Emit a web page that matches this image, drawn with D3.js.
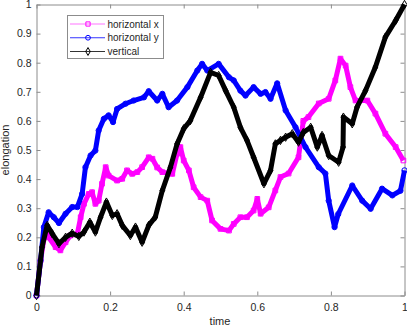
<!DOCTYPE html>
<html>
<head>
<meta charset="utf-8">
<script src="https://cdn.jsdelivr.net/npm/d3@7"></script>
<style>
  body { margin: 0; background: #fff; }
  svg { display: block; font-family: "Liberation Sans", Arial, sans-serif; }
</style>
</head>
<body>
<script>
// time / elongation pairs
var horizX = [
  [0,0],[0.011,0.12],[0.024,0.223],[0.033,0.2],[0.052,0.166],[0.065,0.155],[0.079,0.183],
  [0.092,0.206],[0.111,0.212],[0.12,0.269],[0.129,0.315],[0.142,0.349],[0.151,0.355],
  [0.16,0.315],[0.169,0.326],[0.178,0.384],[0.188,0.441],[0.196,0.412],[0.219,0.395],
  [0.233,0.401],[0.246,0.43],[0.26,0.418],[0.274,0.424],[0.287,0.441],[0.305,0.475],
  [0.315,0.47],[0.328,0.44],[0.342,0.424],[0.369,0.418],[0.382,0.487],[0.391,0.51],
  [0.40,0.464],[0.414,0.43],[0.427,0.372],[0.446,0.338],[0.464,0.326],[0.477,0.258],
  [0.50,0.229],[0.523,0.223],[0.536,0.246],[0.554,0.269],[0.572,0.269],[0.59,0.292],
  [0.60,0.332],[0.609,0.281],[0.631,0.303],[0.649,0.361],[0.663,0.407],[0.685,0.419],
  [0.712,0.475],[0.725,0.60],[0.739,0.613],[0.767,0.66],[0.794,0.676],[0.812,0.739],
  [0.826,0.814],[0.84,0.79],[0.853,0.716],[0.867,0.67],[0.899,0.67],[0.921,0.625],
  [0.948,0.556],[0.976,0.51],[0.997,0.464]
];

var horizY = [
  [0,0],[0.011,0.12],[0.02,0.235],[0.033,0.286],[0.047,0.269],[0.061,0.249],[0.079,0.281],
  [0.097,0.304],[0.111,0.304],[0.124,0.349],[0.133,0.441],[0.147,0.481],[0.16,0.498],
  [0.169,0.567],[0.183,0.607],[0.196,0.619],[0.208,0.596],[0.219,0.641],[0.242,0.659],
  [0.264,0.67],[0.292,0.681],[0.305,0.702],[0.328,0.67],[0.342,0.693],[0.359,0.647],
  [0.382,0.67],[0.41,0.716],[0.437,0.773],[0.45,0.796],[0.464,0.773],[0.495,0.796],
  [0.523,0.75],[0.536,0.739],[0.554,0.704],[0.568,0.687],[0.59,0.716],[0.609,0.693],
  [0.622,0.699],[0.636,0.676],[0.654,0.729],[0.677,0.636],[0.704,0.578],[0.731,0.51],
  [0.767,0.441],[0.785,0.419],[0.794,0.326],[0.81,0.235],[0.82,0.28],[0.858,0.378],
  [0.885,0.326],[0.908,0.298],[0.939,0.367],[0.967,0.344],[0.989,0.36],[1.0,0.43]
];

var vertical = [
  [0,0],[0.015,0.166],[0.029,0.241],[0.043,0.212],[0.061,0.178],[0.079,0.2],[0.097,0.214],
  [0.115,0.203],[0.129,0.218],[0.145,0.252],[0.16,0.218],[0.174,0.269],[0.19,0.321],
  [0.206,0.275],[0.219,0.281],[0.233,0.241],[0.255,0.206],[0.269,0.235],[0.287,0.183],
  [0.305,0.241],[0.323,0.27],[0.342,0.361],[0.364,0.441],[0.382,0.521],[0.40,0.573],
  [0.418,0.601],[0.446,0.681],[0.473,0.767],[0.495,0.756],[0.514,0.704],[0.536,0.647],
  [0.554,0.578],[0.572,0.533],[0.59,0.475],[0.618,0.384],[0.636,0.43],[0.649,0.521],
  [0.663,0.533],[0.677,0.544],[0.695,0.556],[0.712,0.527],[0.725,0.56],[0.745,0.578],
  [0.763,0.51],[0.776,0.55],[0.794,0.481],[0.821,0.458],[0.833,0.51],[0.834,0.613],
  [0.858,0.59],[0.871,0.647],[0.894,0.704],[0.921,0.785],[0.948,0.888],[0.976,0.945],
  [1.0,1.0]
];

var seriesNames = ['horizontal x', 'horizontal y', 'vertical'];
var xTicks = [0, 0.2, 0.4, 0.6, 0.8, 1];
var yTicks = [0, 0.1, 0.2, 0.3, 0.4, 0.5, 0.6, 0.7, 0.8, 0.9, 1];

var w = 407;
var h = 329;
var axisGrey = '#8c8c8c';
var textGrey = '#262626';
var fmt = d3.format('~g');

var svg = d3.select('body').append('svg')
  .attr('width', w)
  .attr('height', h);

/* ===== scales and axes ===== */

var xScale = d3.scaleLinear().domain([0, 1]).range([36.5, 404.5]);
var yScale = d3.scaleLinear().domain([0, 1]).range([295.5, 4.5]);

function styleAxis(g, hideText) {
  g.select('.domain').attr('stroke', axisGrey);
  g.selectAll('.tick line').attr('stroke', axisGrey);
  g.selectAll('.tick text')
    .attr('fill', textGrey)
    .style('font-size', '10.5px')
    .style('display', hideText ? 'none' : null);
}

svg.append('g')
  .attr('transform', 'translate(0,295.5)')
  .call(d3.axisBottom(xScale).tickValues(xTicks).tickFormat(fmt)
    .tickSizeInner(-4).tickSizeOuter(0).tickPadding(8))
  .call(styleAxis, false);

svg.append('g')
  .attr('transform', 'translate(0,4.5)')
  .call(d3.axisTop(xScale).tickValues(xTicks).tickSizeInner(-4).tickSizeOuter(0))
  .call(styleAxis, true);

svg.append('g')
  .attr('transform', 'translate(36.5,0)')
  .call(d3.axisLeft(yScale).tickValues(yTicks).tickFormat(fmt)
    .tickSizeInner(-4).tickSizeOuter(0).tickPadding(5))
  .call(styleAxis, false);

svg.append('g')
  .attr('transform', 'translate(404.5,0)')
  .call(d3.axisRight(yScale).tickValues(yTicks).tickSizeInner(-4).tickSizeOuter(0))
  .call(styleAxis, true);

svg.append('text')
  .attr('x', 220)
  .attr('y', 325)
  .attr('text-anchor', 'middle')
  .attr('fill', textGrey)
  .style('font-size', '11px')
  .text('time');

svg.append('text')
  .attr('transform', 'translate(9,150) rotate(-90)')
  .attr('text-anchor', 'middle')
  .attr('fill', textGrey)
  .style('font-size', '11px')
  .text('elongation');

/* ===== lines and markers ===== */

var line = d3.line()
  .x(function(d) { return xScale(d[0]); })
  .y(function(d) { return yScale(d[1]); });

var series = [
  { data: horizX, color: '#ff00ff', marker: d3.symbolSquare, size: 22 },
  { data: horizY, color: '#0000ff', marker: d3.symbolCircle, size: 22 },
  { data: vertical, color: '#000000', marker: d3.symbolDiamond, size: 20 }
];

series.forEach(function(s) {
  var g = svg.append('g');
  g.append('path')
    .datum(s.data)
    .attr('d', line)
    .attr('fill', 'none')
    .attr('stroke', s.color)
    .attr('stroke-width', 5)
    .attr('stroke-linejoin', 'round');

  g.selectAll('path.mk')
    .data(s.data)
    .enter()
    .append('path')
    .attr('class', 'mk')
    .attr('d', d3.symbol().type(s.marker).size(s.size))
    .attr('transform', function(d) {
      return 'translate(' + xScale(d[0]) + ',' + yScale(d[1]) + ')';
    })
    .attr('fill', 'none')
    .attr('stroke', s.color)
    .attr('stroke-width', 1);
});

/* ===== legend ===== */

var legend = svg.append('g');

legend.append('rect')
  .attr('x', 67.5)
  .attr('y', 15.5)
  .attr('width', 96)
  .attr('height', 43)
  .attr('fill', '#fff')
  .attr('stroke', axisGrey);

var rowY = d3.scalePoint().domain(seriesNames).range([24, 51.5]);

series.forEach(function(s, i) {
  var name = seriesNames[i];
  var yy = rowY(name);
  legend.append('line')
    .attr('x1', 70).attr('x2', 105)
    .attr('y1', yy).attr('y2', yy)
    .attr('stroke', s.color)
    .attr('stroke-width', 1)
    .attr('stroke-opacity', i === 0 ? 0.55 : 0.8);
  legend.append('path')
    .attr('d', d3.symbol().type(s.marker).size(18))
    .attr('transform', 'translate(88,' + yy + ')')
    .attr('fill', 'none')
    .attr('stroke', s.color)
    .attr('stroke-width', 1);
  legend.append('text')
    .attr('x', 107.5)
    .attr('y', yy + 3.6)
    .attr('fill', textGrey)
    .style('font-size', '10px')
    .text(name);
});
</script>
</body>
</html>
